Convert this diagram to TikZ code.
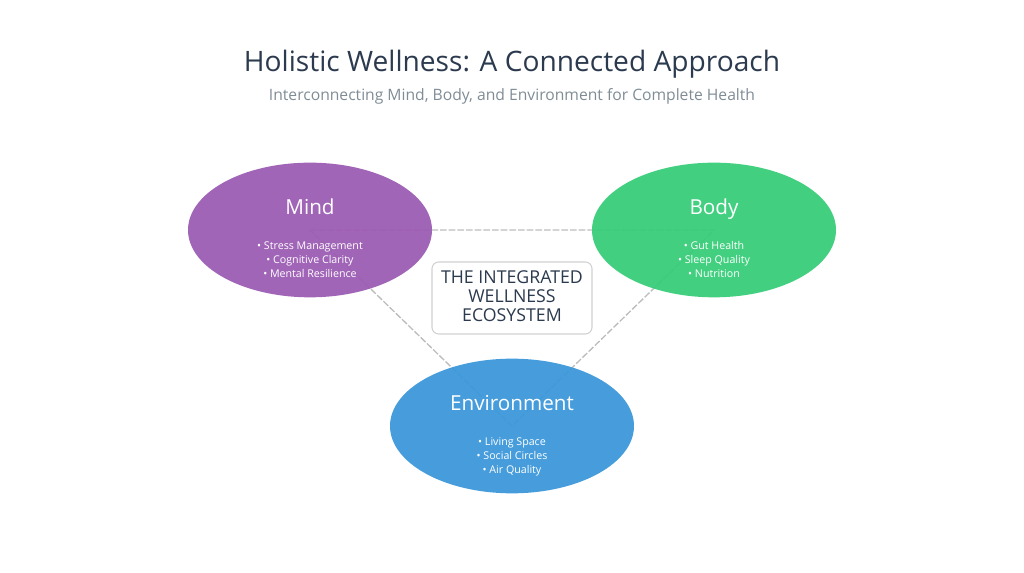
\documentclass[tikz,border=0pt]{standalone}
\usepackage{fontspec}
\setmainfont{Open Sans}
\usetikzlibrary{shapes.geometric,backgrounds}
\definecolor{inkdark}{HTML}{2B3A4E}
\definecolor{inkgray}{HTML}{7F8C96}
\definecolor{mindcol}{HTML}{9B5BB3}
\definecolor{bodycol}{HTML}{36CD78}
\definecolor{envcol}{HTML}{3B97DA}
\definecolor{linkcol}{HTML}{BDBDBD}
\tikzset{
    area/.style={ellipse, minimum width=183pt, minimum height=101pt, inner sep=0pt, fill opacity=0.94, text opacity=1},
    areatitle/.style={text=white, anchor=base, font=\fontsize{15.5}{19}\selectfont},
    arealist/.style={text=white, align=center, font=\fontsize{8}{10.5}\selectfont},
    link/.style={draw=linkcol, line width=1pt, line cap=butt, dash pattern=on 5pt off 1.5pt},
}
\begin{document}
\begin{tikzpicture}[line cap=round, line join=round, x=0.75pt, y=0.75pt]
    \useasboundingbox (0, 0) rectangle (1024, 573);
    \node[text=inkdark, font=\fontsize{21.1}{26}\selectfont] (title) at (512, 509) {Holistic Wellness: A Connected Approach};
    \node[text=inkgray, font=\fontsize{11.75}{14}\selectfont] (subtitle) at (512, 477) {Interconnecting Mind, Body, and Environment for Complete Health};
    \node[area, fill=mindcol] (mind) at (310, 343) {};
    \node[area, fill=bodycol] (body) at (714, 343) {};
    \node[area, fill=envcol] (env) at (512, 147) {};
    \begin{pgfonlayer}{background}
        \draw[link] (mind.center) -- (body.center) -- (env.center) -- cycle;
    \end{pgfonlayer}
    \node[areatitle] (mindname) at (310, 358) {Mind};
    \node[areatitle] (bodyname) at (714, 358) {Body};
    \node[areatitle] (envname) at (512, 162) {Environment};
    \node[arealist] (mindlist) at (310, 313) {• Stress Management\\• Cognitive Clarity\\• Mental Resilience};
    \node[arealist] (bodylist) at (714, 313) {• Gut Health\\• Sleep Quality\\• Nutrition};
    \node[arealist] (envlist) at (512, 116) {• Living Space\\• Social Circles\\• Air Quality};
    \node[draw=linkcol!70, rounded corners=5pt, line width=0.8pt, minimum width=120pt, minimum height=54pt, fill=white] (core) at (512, 275) {};
    \node[text=inkdark, align=center, font=\fontsize{13.3}{14.3}\selectfont] (corename) at (core.center) [yshift=1.5pt] {THE INTEGRATED\\WELLNESS\\ECOSYSTEM};
\end{tikzpicture}
\end{document}
